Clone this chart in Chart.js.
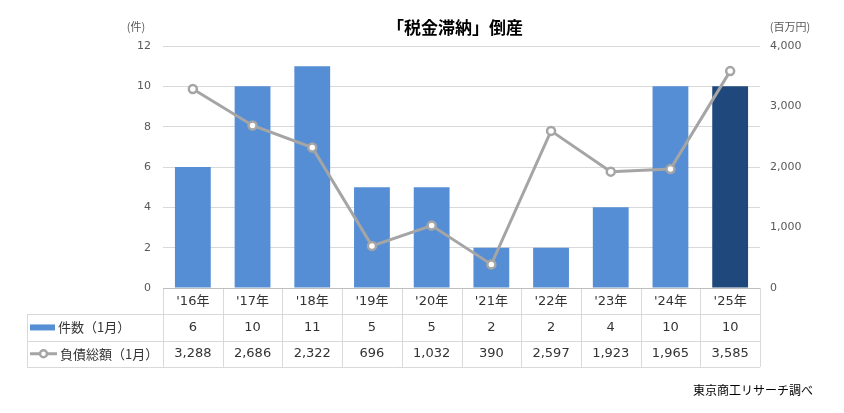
<!DOCTYPE html>
<html lang="ja">
<head>
    <meta charset="UTF-8">
    <title>「税金滞納」倒産</title>
    <script src="https://cdn.jsdelivr.net/npm/chart.js"></script>
    <style>
        html, body { margin: 0; padding: 0; background: #fff; }
        #wrap { width: 844px; height: 413px; }
    </style>
</head>
<body>
    <div id="wrap"><canvas id="chart" width="844" height="413"></canvas></div>
    <script>
        var years = ["'16年", "'17年", "'18年", "'19年", "'20年", "'21年", "'22年", "'23年", "'24年", "'25年"];
        var counts = [6, 10, 11, 5, 5, 2, 2, 4, 10, 10];
        var debts = [3288, 2686, 2322, 696, 1032, 390, 2597, 1923, 1965, 3585];
        var countTicks = [0, 2, 4, 6, 8, 10, 12];
        var debtTicks = [0, 1000, 2000, 3000, 4000];

        var FONT = '"DejaVu Sans", "Noto Sans CJK JP", sans-serif';
        var JFONT = '"Noto Sans CJK JP", sans-serif';
        var barColors = counts.map(function (v, i) { return i == counts.length - 1 ? '#1f497d' : '#558ed5'; });

        // title, axis units, data table, source note
        var extras = {
            id: 'extras',
            afterDraw: function (chart) {
                var c = chart.ctx;
                var area = chart.chartArea;
                var x = chart.scales.x;
                var colW = area.width / years.length;
                var rowH = 26.3;
                var top = area.bottom;
                var tableLeft = 27;
                c.save();

                c.fillStyle = '#000';
                c.font = 'bold 17px ' + JFONT;
                c.textAlign = 'center';
                c.textBaseline = 'middle';
                c.fillText('「税金滞納」倒産', 455, 28);

                c.font = '11px ' + JFONT;
                c.fillStyle = '#595959';
                c.fillText('(件)', 136, 27);
                c.fillText('(百万円)', 790, 27);

                // table lines
                c.strokeStyle = '#d9d9d9';
                c.lineWidth = 1;
                c.beginPath();
                for (var r = 1; r <= 3; r++) {
                    var yy = Math.round(top + rowH * r) + 0.5;
                    c.moveTo(tableLeft, yy);
                    c.lineTo(area.right, yy);
                }
                for (var i = 0; i <= years.length; i++) {
                    var xx = Math.round(area.left + colW * i) + 0.5;
                    c.moveTo(xx, top);
                    c.lineTo(xx, top + rowH * 3);
                }
                c.moveTo(tableLeft + 0.5, top + rowH);
                c.lineTo(tableLeft + 0.5, top + rowH * 3);
                c.stroke();

                // axis line
                c.strokeStyle = '#bfbfbf';
                c.beginPath();
                c.moveTo(area.left, Math.round(top) + 0.5);
                c.lineTo(area.right, Math.round(top) + 0.5);
                c.stroke();

                c.font = '13px ' + FONT;
                c.fillStyle = '#333';
                c.textAlign = 'center';
                for (var i = 0; i < years.length; i++) {
                    var cx = x.getPixelForValue(i);
                    c.fillText(years[i], cx, top + rowH * 0.5);
                    c.fillText(counts[i].toString(), cx, top + rowH * 1.5);
                    c.fillText(debts[i].toLocaleString('en-US'), cx, top + rowH * 2.5);
                }

                // legend keys
                c.fillStyle = '#558ed5';
                c.fillRect(30, top + rowH * 1.5 - 3, 25, 6);
                c.strokeStyle = '#a5a5a5';
                c.lineWidth = 3;
                c.beginPath();
                c.moveTo(30, top + rowH * 2.5);
                c.lineTo(57, top + rowH * 2.5);
                c.stroke();
                c.beginPath();
                c.arc(43.5, top + rowH * 2.5, 3.5, 0, Math.PI * 2);
                c.fillStyle = '#fff';
                c.fill();
                c.lineWidth = 2.5;
                c.stroke();

                c.fillStyle = '#333';
                c.textAlign = 'left';
                c.font = '13px ' + JFONT;
                c.fillText('件数（1月）', 58, top + rowH * 1.5);
                c.fillText('負債総額（1月）', 60, top + rowH * 2.5);

                c.font = '12px ' + JFONT;
                c.textAlign = 'right';
                c.fillStyle = '#000';
                c.fillText('東京商工リサーチ調べ', 813, 390);
                c.restore();
            }
        };

        const ctx = document.getElementById('chart').getContext('2d');
        const chart = new Chart(ctx, {
            type: 'bar',
            data: {
                labels: years,
                datasets: [
                    {
                        type: 'line',
                        label: '負債総額（1月）',
                        data: debts,
                        yAxisID: 'y2',
                        borderColor: '#a5a5a5',
                        borderWidth: 3,
                        pointRadius: 4,
                        pointBorderWidth: 2.5,
                        pointBackgroundColor: '#fff',
                        pointBorderColor: '#a5a5a5',
                        tension: 0,
                        order: 0
                    },
                    {
                        label: '件数（1月）',
                        data: counts,
                        yAxisID: 'y',
                        backgroundColor: barColors,
                        categoryPercentage: 1,
                        barPercentage: 0.6,
                        order: 1
                    }
                ]
            },
            options: {
                responsive: false,
                animation: false,
                devicePixelRatio: 1,
                layout: { padding: { top: 46, bottom: 125, left: 0, right: 0 } },
                plugins: {
                    legend: { display: false },
                    tooltip: { enabled: false },
                    title: { display: false }
                },
                scales: {
                    x: { display: false },
                    y: {
                        position: 'left',
                        min: 0, max: 12,
                        afterBuildTicks: function (s) { s.ticks = countTicks.map(function (v) { return { value: v }; }); },
                        afterFit: function (s) { s.width = 163; },
                        border: { display: false },
                        grid: { color: '#d9d9d9', drawTicks: false },
                        ticks: { padding: 12, color: '#595959', font: { family: FONT, size: 11 } }
                    },
                    y2: {
                        position: 'right',
                        min: 0, max: 4000,
                        afterBuildTicks: function (s) { s.ticks = debtTicks.map(function (v) { return { value: v }; }); },
                        afterFit: function (s) { s.width = 84; },
                        border: { display: false },
                        grid: { display: false, drawTicks: false },
                        ticks: {
                            padding: 10, color: '#595959', font: { family: FONT, size: 11 },
                            callback: function (v) { return v.toLocaleString('en-US'); }
                        }
                    }
                }
            },
            plugins: [extras]
        });
    </script>
</body>
</html>
